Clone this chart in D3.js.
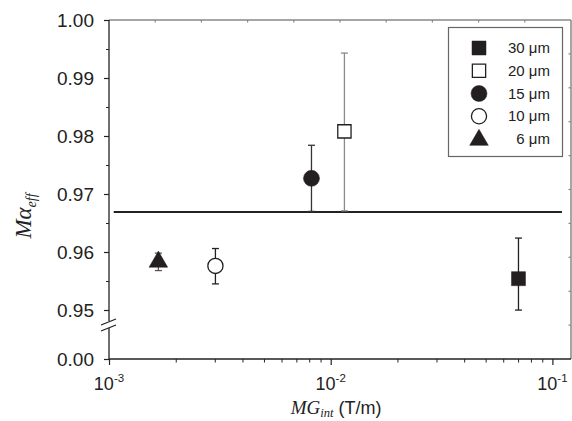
<!DOCTYPE html>
<html><head><meta charset="utf-8">
<script src="https://cdn.jsdelivr.net/npm/d3@7"></script>
<style>body{margin:0;background:#fff}svg{display:block}</style>
</head><body>
<svg id="c" width="572" height="421"></svg>
<script>
const labels = ["30 μm","20 μm","15 μm","10 μm","6 μm"];
const symbols = ["square","square","circle","circle","triangle"];
const filled = [true,false,true,false,true];
const xVals = [0.0703, 0.01153, 0.00819, 0.00302, 0.00167];
const yVals = [0.9554, 0.9808, 0.9727, 0.9576, 0.9583];
const errLow = [0.9486, 0.9671, 0.9670, 0.9545, 0.9568];
const errHigh = [0.9624, 0.9943, 0.9784, 0.9606, 0.9598];
const errColor = ["#222","#8a8a8a","#333","#222","#555"];
const refLineY = 0.9669;
const refLineX = [0.00105, 0.1104];
const yTicks = [0.00, 0.95, 0.96, 0.97, 0.98, 0.99, 1.00];
const yMinor = [0.955, 0.965, 0.975, 0.985, 0.995];
const xTicks = [1e-3, 1e-2, 1e-1];
const xTickExp = ["-3","-2","-1"];

const L=109, R=571, T=20, B=359;
const svg = d3.select("#c");
const dark="#222", gray="#888";
const x = d3.scaleLog().domain([1e-3, 0.1213]).range([L, R]);
const y = d3.scaleLinear().domain([0, 0.95, 1.0]).range([B, 310, T]);

// mirror top/right axes (gray)
const lin = d3.scaleLinear().domain([0,10]).range([L,R]);
const linY = d3.scaleLinear().domain([0,10]).range([B,T]);
svg.append("line").attr("x1",L).attr("x2",R).attr("y1",T).attr("y2",T).attr("stroke",gray).attr("stroke-width",1.5);
svg.append("line").attr("x1",R).attr("x2",R).attr("y1",T).attr("y2",B).attr("stroke",gray).attr("stroke-width",1.5);
svg.selectAll(".tt").data(d3.range(1,10)).join("line").attr("x1",d=>lin(d)).attr("x2",d=>lin(d)).attr("y1",T).attr("y2",T+2.5).attr("stroke",gray).attr("stroke-width",1.2);
svg.selectAll(".rt").data(d3.range(1,10)).join("line").attr("y1",d=>linY(d)).attr("y2",d=>linY(d)).attr("x1",R).attr("x2",R-2.5).attr("stroke",gray).attr("stroke-width",1.2);

// left axis
const ga = svg.append("g").attr("transform",`translate(${L},0)`);
ga.call(d3.axisLeft(y).tickValues(yTicks).tickSize(5).tickPadding(10).tickFormat(d3.format(".2f")));
ga.select(".domain").remove();
ga.selectAll(".tick line").attr("stroke",dark).attr("stroke-width",1.2);
ga.selectAll(".tick text").attr("fill",dark).attr("dy","0.36em").style("font-family","'Liberation Sans',Arial,sans-serif").style("font-size","19px");
const gm = svg.append("g").attr("transform",`translate(${L},0)`);
gm.call(d3.axisLeft(y).tickValues(yMinor).tickSize(3).tickFormat(""));
gm.select(".domain").remove();
gm.selectAll(".tick line").attr("stroke",dark).attr("stroke-width",1);
// axis line with break
svg.append("line").attr("x1",L).attr("x2",L).attr("y1",T).attr("y2",321).attr("stroke",dark).attr("stroke-width",1.3);
svg.append("line").attr("x1",L).attr("x2",L).attr("y1",328).attr("y2",B).attr("stroke",dark).attr("stroke-width",1.3);
svg.append("line").attr("x1",101).attr("x2",116).attr("y1",325).attr("y2",319).attr("stroke",dark).attr("stroke-width",1.2);
svg.append("line").attr("x1",101).attr("x2",116).attr("y1",331).attr("y2",325).attr("stroke",dark).attr("stroke-width",1.2);

// bottom axis
svg.append("line").attr("x1",L).attr("x2",R).attr("y1",B).attr("y2",B).attr("stroke",dark).attr("stroke-width",1.3);
const gb = svg.append("g").attr("transform",`translate(0,${B})`);
gb.call(d3.axisBottom(x).tickValues(xTicks).tickSize(6).tickFormat(""));
gb.select(".domain").remove();
gb.selectAll(".tick line").attr("stroke",dark).attr("stroke-width",1.2);
const xMinor = [];
for (let k=-3;k<=-1;k++) for (let m=2;m<=9;m++){const v=m*Math.pow(10,k); if(v<=0.1213) xMinor.push(v);}
const gbm = svg.append("g").attr("transform",`translate(0,${B})`);
gbm.call(d3.axisBottom(x).tickValues(xMinor).tickSize(3.5).tickFormat(""));
gbm.select(".domain").remove();
gbm.selectAll(".tick line").attr("stroke",dark).attr("stroke-width",1);
xTicks.forEach((v,i)=>{
  const t = svg.append("text").attr("x",x(v)).attr("y",390).attr("text-anchor","middle")
    .attr("fill",dark).style("font-family","'Liberation Sans',Arial,sans-serif").style("font-size","18px");
  t.append("tspan").text("10");
  t.append("tspan").attr("dy",-8).style("font-size","11.5px").text(xTickExp[i]);
});

// axis titles
const xt = svg.append("text").attr("x",336).attr("y",414).attr("text-anchor","middle").attr("fill",dark);
xt.append("tspan").style("font-family","'Liberation Serif','Times New Roman',serif").style("font-style","italic").style("font-size","19px").text("MG");
xt.append("tspan").attr("dy",3).style("font-family","'Liberation Serif','Times New Roman',serif").style("font-style","italic").style("font-size","12.5px").text("int");
xt.append("tspan").attr("dy",-3).style("font-family","'Liberation Sans',Arial,sans-serif").style("font-size","18px").text(" (T/m)");

const yt = svg.append("text").attr("transform","translate(31,216) rotate(-90)").attr("text-anchor","middle").attr("fill",dark);
yt.append("tspan").style("font-family","'Liberation Serif','Times New Roman',serif").style("font-style","italic").style("font-size","23px").text("Mα");
yt.append("tspan").attr("dy",5).style("font-family","'Liberation Serif','Times New Roman',serif").style("font-style","italic").style("font-size","14px").text("eff");

// reference line
svg.append("line").attr("x1",x(refLineX[0])).attr("x2",x(refLineX[1])).attr("y1",y(refLineY)).attr("y2",y(refLineY)).attr("stroke",dark).attr("stroke-width",2);

// error bars
const idx = d3.range(labels.length);
const cap = 3.5;
idx.forEach(i=>{
  const g = svg.append("g").attr("stroke",errColor[i]).attr("stroke-width",1.3);
  const cx = x(xVals[i]);
  g.append("line").attr("x1",cx).attr("x2",cx).attr("y1",y(errLow[i])).attr("y2",y(errHigh[i]));
  g.append("line").attr("x1",cx-cap).attr("x2",cx+cap).attr("y1",y(errLow[i])).attr("y2",y(errLow[i]));
  g.append("line").attr("x1",cx-cap).attr("x2",cx+cap).attr("y1",y(errHigh[i])).attr("y2",y(errHigh[i]));
});

// markers
const symType = {square:d3.symbolSquare, circle:d3.symbolCircle, triangle:d3.symbolTriangle};
const symSize = {square:196, circle:201, triangle:150};
function marker(g, i, sx, sy){
  const s = symbols[i];
  g.append("path").attr("transform",`translate(${sx},${sy})`)
   .attr("d", d3.symbol().type(symType[s]).size(filled[i]?symSize[s]:symSize[s]-20)())
   .attr("fill", filled[i] ? "#231f20" : "#fff")
   .attr("stroke", "#231f20").attr("stroke-width", filled[i]?0.5:1.3);
}
idx.forEach(i=> marker(svg, i, x(xVals[i]), y(yVals[i])));

// legend
svg.append("rect").attr("x",448.5).attr("y",27.5).attr("width",114).attr("height",129).attr("fill","#fff").attr("stroke","#666").attr("stroke-width",1.2);
const ly = d3.scaleLinear().domain([0,4]).range([48,139]);
idx.forEach(i=>{
  marker(svg, i, 479, ly(i) + (symbols[i]==="triangle"?1:0));
  svg.append("text").attr("x",550).attr("y",ly(i)+5).attr("text-anchor","end").attr("fill",dark)
    .style("font-family","'Liberation Sans',Arial,sans-serif").style("font-size","15px").text(labels[i]);
});
</script>
</body></html>
